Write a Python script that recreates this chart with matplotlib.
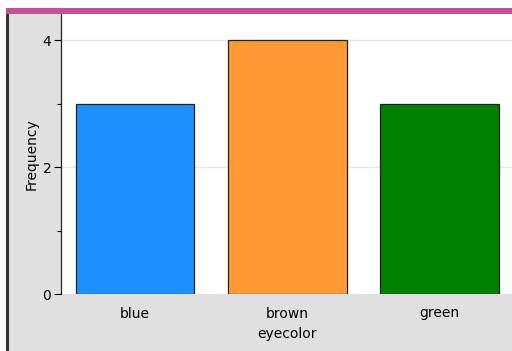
import matplotlib
matplotlib.use("Agg")
import matplotlib.pyplot as plt
from matplotlib.patches import Rectangle
from matplotlib.ticker import MultipleLocator

categories = ["blue", "brown", "green"]
freq = [3, 4, 3]
bar_colors = ["#1E90FF", "#FF9933", "#008000"]

W, H = 512, 351
fig = plt.figure(figsize=(W / 100, H / 100), dpi=100, facecolor="white")


def fx(px):
    return px / W


def fy(py):
    return 1 - py / H


# frame pieces: gray panel, magenta top bar, dark left border (behind the axes)
fig.patches.append(Rectangle((fx(8), 0), 1 - fx(8), fy(14), transform=fig.transFigure,
                             facecolor="#e0e0e0", edgecolor="none", zorder=-3))
fig.patches.append(Rectangle((fx(6), fy(14)), 1 - fx(6), fy(8) - fy(14), transform=fig.transFigure,
                             facecolor="#c2519a", edgecolor="none", zorder=-2))
fig.patches.append(Rectangle((fx(6), 0), fx(2.5), fy(14), transform=fig.transFigure,
                             facecolor="#333333", edgecolor="none", zorder=-2))

ax = fig.add_axes([fx(61), fy(294), fx(512) - fx(61), fy(14) - fy(294)])
ax.set_zorder(5)
ax.set_facecolor("white")
x = range(len(categories))
ax.bar(x, freq, width=0.78, color=bar_colors, edgecolor="#222222", linewidth=0.9, zorder=3)

ax.set_xlim(-0.486, 2.476)
ax.set_ylim(0, 4.41)
ax.set_xticks(list(x))
ax.set_xticklabels(categories)
ax.yaxis.set_major_locator(MultipleLocator(2))
ax.yaxis.set_minor_locator(MultipleLocator(1))
ax.grid(axis="y", which="major", color="#e6e6e6", linewidth=1, zorder=0)
ax.tick_params(axis="x", length=0, pad=9, labelsize=10)
ax.tick_params(axis="y", which="major", length=5, width=0.8, labelsize=10, pad=2)
ax.tick_params(axis="y", which="minor", length=3, width=0.8)
for s in ["top", "right", "bottom"]:
    ax.spines[s].set_visible(False)
ax.spines["left"].set_color("#222222")
ax.spines["left"].set_linewidth(0.9)

ax.set_xlabel("eyecolor", fontsize=10, labelpad=5)
ax.set_ylabel("Frequency", fontsize=10, labelpad=3)

fig.savefig("out.png", dpi=100, facecolor=fig.get_facecolor())
